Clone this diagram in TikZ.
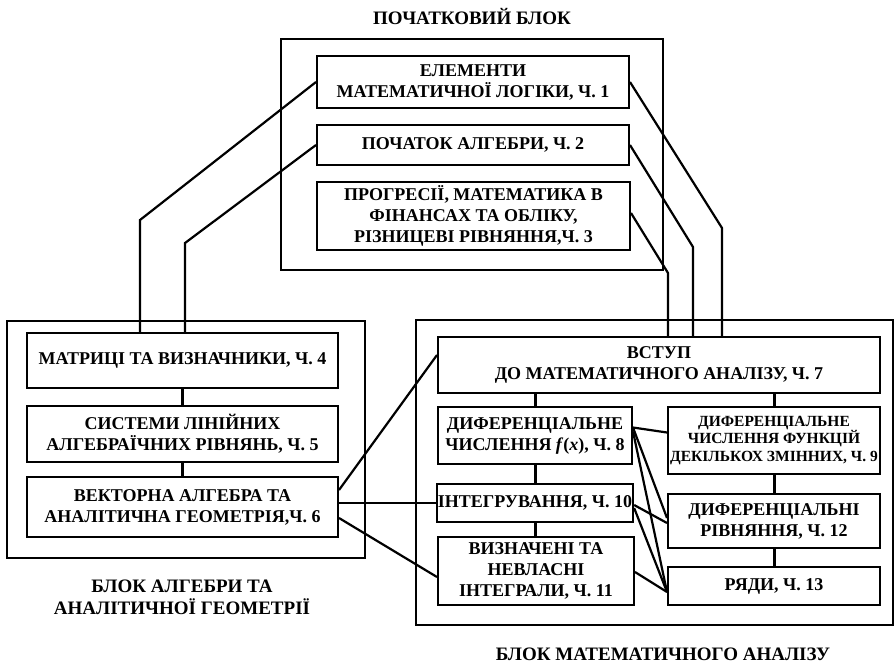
\documentclass[tikz,border=0pt]{standalone}
\usepackage{fontspec}
\setmainfont{Liberation Serif}
\usetikzlibrary{positioning}

\begin{document}
\begin{tikzpicture}[
    x=1pt, y=-1pt,
    every node/.style={font=\bfseries\fontsize{18}{21}\selectfont},
    box/.style={
        draw, line width=2pt, align=center, inner sep=1pt
    },
    smallbox/.style={box, font=\bfseries\fontsize{15.5}{17.5}\selectfont},
    frame/.style={draw, line width=2pt, inner sep=0pt},
    caption/.style={align=center, font=\bfseries\fontsize{19}{22}\selectfont},
    link/.style={line width=2.2pt},
    stem/.style={line width=3pt},
]
\useasboundingbox (0,0) rectangle (895,665);

% --- outer blocks ---
\node[frame, minimum width=382, minimum height=231] (fTop) at (472,154.5) {};
\node[frame, minimum width=358, minimum height=237] (fAlg) at (186,439.5) {};
\node[frame, minimum width=477, minimum height=305] (fAn) at (654.5,472.5) {};

% --- initial block ---
\node[box, minimum width=312, minimum height=52] (b1) at (473,82) {ЕЛЕМЕНТИ\\МАТЕМАТИЧНОЇ ЛОГІКИ, Ч. 1};
\node[box, minimum width=312, minimum height=40] (b2) at (473,145) {ПОЧАТОК АЛГЕБРИ, Ч. 2};
\node[box, minimum width=313, minimum height=68] (b3) at (473.5,216) {ПРОГРЕСІЇ, МАТЕМАТИКА В\\ФІНАНСАХ ТА ОБЛІКУ,\\РІЗНИЦЕВІ РІВНЯННЯ,Ч. 3};
\node[caption] (tTop) at (472,16) {ПОЧАТКОВИЙ БЛОК};

% --- algebra block ---
\node[box, minimum width=311, minimum height=55] (b4) at (182.5,360.5) {МАТРИЦІ ТА ВИЗНАЧНИКИ, Ч. 4};
\node[box, minimum width=311, minimum height=56] (b5) at (182.5,434) {СИСТЕМИ ЛІНІЙНИХ\\АЛГЕБРАЇЧНИХ РІВНЯНЬ, Ч. 5};
\node[box, minimum width=311, minimum height=60] (b6) at (182.5,507) {ВЕКТОРНА АЛГЕБРА ТА\\АНАЛІТИЧНА ГЕОМЕТРІЯ,Ч. 6};
\node[caption] (tAlg) at (182,597) {БЛОК АЛГЕБРИ ТА\\АНАЛІТИЧНОЇ ГЕОМЕТРІЇ};
\draw[stem] (b4) -- (b5);
\draw[stem] (b5) -- (b6);

% --- analysis block ---
\node[box, minimum width=442, minimum height=56] (b7) at (659,365) {ВСТУП\\ДО МАТЕМАТИЧНОГО АНАЛІЗУ, Ч. 7};
\node[box, minimum width=194, minimum height=57] (b8) at (535,435.5) {ДИФЕРЕНЦІАЛЬНЕ\\ЧИСЛЕННЯ \textit{f}(\textit{x}), Ч. 8};
\node[smallbox, minimum width=212, minimum height=67] (b9) at (774,440.5) {ДИФЕРЕНЦІАЛЬНЕ\\ЧИСЛЕННЯ ФУНКЦІЙ\\ДЕКІЛЬКОХ ЗМІННИХ, Ч. 9};
\node[box, minimum width=194, minimum height=38] (b10) at (535,503) {ІНТЕГРУВАННЯ, Ч. 10};
\node[box, minimum width=196, minimum height=68] (b11) at (536,571) {ВИЗНАЧЕНІ ТА\\НЕВЛАСНІ\\ІНТЕГРАЛИ, Ч. 11};
\node[box, minimum width=212, minimum height=54] (b12) at (774,521) {ДИФЕРЕНЦІАЛЬНІ\\РІВНЯННЯ, Ч. 12};
\node[box, minimum width=212, minimum height=38] (b13) at (774,586) {РЯДИ, Ч. 13};
\node[caption] (tAn) at (663,654) {БЛОК МАТЕМАТИЧНОГО АНАЛІЗУ};
\draw[stem] (b8.north) -- (b8.north |- b7.south);
\draw[stem] (b9.north) -- (b9.north |- b7.south);
\draw[stem] (b10.north) -- (b10.north |- b8.south);
\draw[stem] (b10.south) -- (b10.south |- b11.north);
\draw[stem] (b9) -- (b12);
\draw[stem] (b12) -- (b13);
\draw[link] ([yshift=8]b8.east) -- ([yshift=8]b9.west);
\draw[link] ([yshift=8]b8.east) -- ([yshift=3]b12.west);
\draw[link] ([yshift=4]b8.east) -- ([yshift=-6]b13.west);
\draw[link] ([yshift=-2]b10.east) -- ([yshift=-2]b12.west);
\draw[link] ([yshift=-5]b10.east) -- ([yshift=-6]b13.west);
\draw[link] ([yshift=-1]b11.east) -- ([yshift=-6]b13.west);

% --- links between blocks ---
\coordinate (k1) at (140,220);
\coordinate (k2) at (185,243);
\coordinate (k3) at (722,228);
\coordinate (k4) at (693,247);
\coordinate (k5) at (668,273);
\draw[link] (b1.west) -- (k1) -- (k1 |- b4.north);
\draw[link] (b2.west) -- (k2) -- (k2 |- b4.north);
\draw[link] (b1.east) -- (k3) -- (k3 |- b7.north);
\draw[link] (b2.east) -- (k4) -- (k4 |- b7.north);
\draw[link] ([yshift=3]b3.east) -- (k5) -- (k5 |- b7.north);
\draw[link] ([yshift=17]b6.east) -- ([yshift=10]b7.west);
\draw[link] (b10.west -| b6.east) -- (b10.west);
\draw[link] ([yshift=-11]b6.east) -- ([yshift=-6]b11.west);

\end{tikzpicture}
\end{document}
